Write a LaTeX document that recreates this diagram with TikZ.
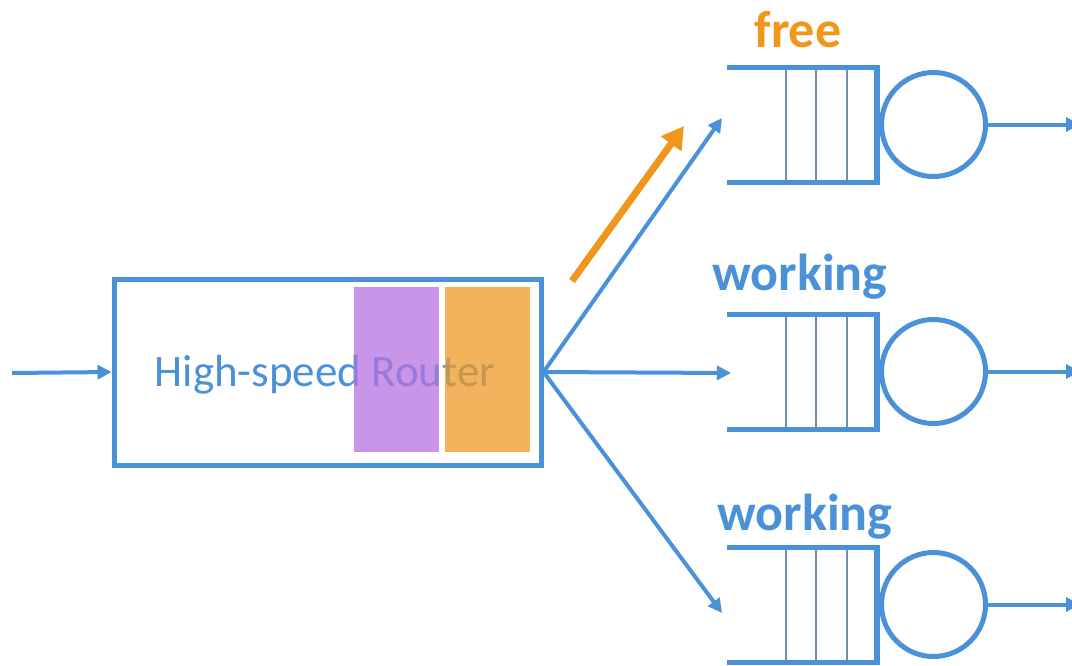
\documentclass[tikz,border=0pt]{standalone}
\usepackage{fontspec}
\setmainfont{Carlito}
\usetikzlibrary{arrows.meta}
\definecolor{cblue}{HTML}{4A91D8}
\definecolor{corange}{HTML}{F0961A}
\definecolor{cpurple}{HTML}{B571E0}
\definecolor{corfill}{HTML}{ED9925}
\definecolor{cthin}{HTML}{6F8FB0}
\begin{document}
\begin{tikzpicture}[x=1pt,y=-1pt,
  conn/.style={draw=cblue, line width=4pt, -{Triangle[length=14pt,width=14pt]}},
  hot/.style={draw=corange, line width=7pt, -{Triangle[length=22pt,width=24pt]}},
  routerbox/.style={draw=cblue, line width=5pt, minimum width=427pt, minimum height=186pt, inner sep=0pt},
  bufbox/.style={minimum width=85pt, minimum height=165pt, inner sep=0pt, opacity=0.75},
  server/.style={circle, draw=cblue, line width=5pt, minimum size=104pt, inner sep=0pt},
  qline/.style={draw=cblue, line width=5.5pt},
  qdiv/.style={draw=cthin, line width=1.5pt},
  state/.style={font=\bfseries\fontsize{52}{62}\selectfont, inner sep=0pt},
  routertext/.style={font=\fontsize{45}{54}\selectfont, text=cblue, inner sep=0pt}
]
\useasboundingbox (0,0) rectangle (1072,665);

% router
\node (router) [routerbox] at (327.5,372) {};
\node (rlabel) [routertext] at (325,375) {High-speed Router};
\node (buf1) [bufbox, fill=cpurple] at (396.5,369.5) {};
\node (buf2) [bufbox, fill=corfill] at (487.5,369.5) {};

% input
\coordinate (src) at (12,373);
\draw[conn] (src) -- (router.west);

% queues
\foreach \i/\c in {1/124.5, 2/371.5, 3/604.5} {
  \draw[qdiv] (786,\c-57) -- (786,\c+58);
  \draw[qdiv] (816,\c-57) -- (816,\c+58);
  \draw[qdiv] (847,\c-57) -- (847,\c+58);
  \draw[qline] (727,\c-57) -- (879,\c-57);
  \draw[qline] (727,\c+58) -- (879,\c+58);
  \draw[qline] (877,\c-59.5) -- (877,\c+60.5);
  \node (srv\i) [server] at (933.5,\c) {};
  \coordinate (out\i) at (1080,\c);
  \draw[conn] (srv\i.east) -- (out\i);
}

% router to queues
\coordinate (in1) at (722,118);
\coordinate (in2) at (731,373);
\coordinate (in3) at (722,613);
\draw[conn] (router.east) -- (in1);
\draw[conn] (router.east) -- (in2);
\draw[conn] (router.east) -- (in3);

% orange arrow
\coordinate (h1) at (572,281);
\coordinate (h2) at (684,126);
\draw[hot] (h1) -- (h2);

% labels
\node (lfree) [state, text=corange] at (798,30) {free};
\node (lw2) [state, text=cblue] at (800,277) {working};
\node (lw3) [state, text=cblue] at (805,517) {working};
\end{tikzpicture}
\end{document}
